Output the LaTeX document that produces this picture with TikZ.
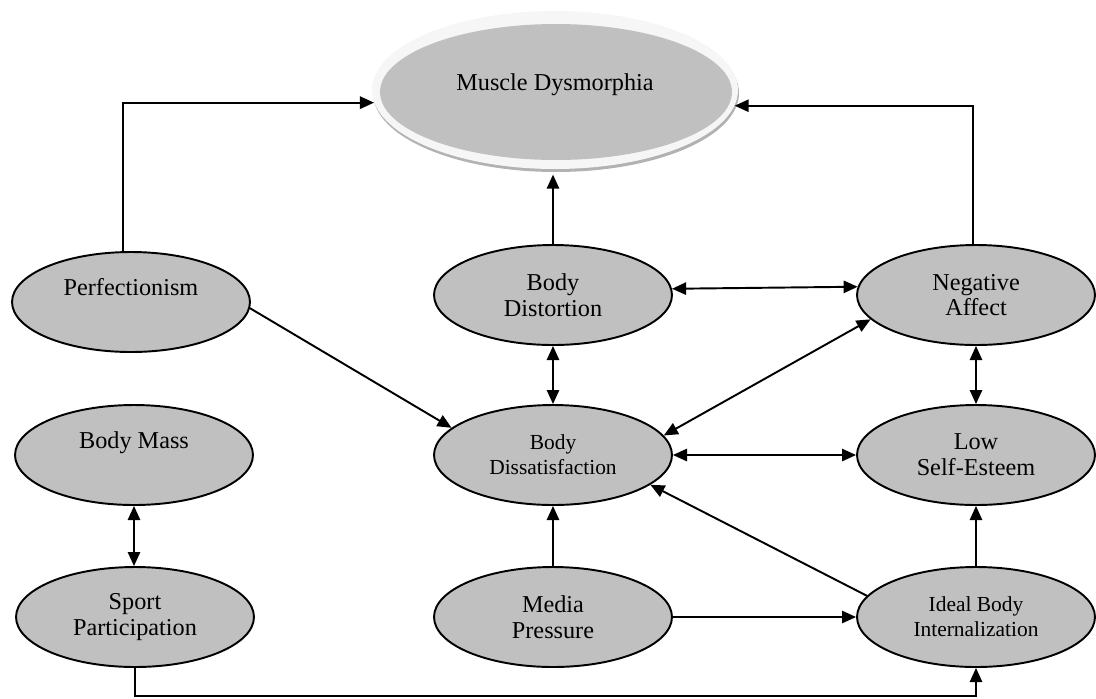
\documentclass[tikz,border=0pt]{standalone}
\usepackage{fontspec}
\setmainfont{Liberation Serif}
\usetikzlibrary{shapes.geometric,arrows.meta,calc}
\definecolor{nodegray}{RGB}{192,192,192}
\begin{document}
\begin{tikzpicture}[x=0.02cm,y=-0.02cm,
  var/.style={ellipse, draw=black, line width=1.1pt, fill=nodegray, minimum width=4.76cm, minimum height=2cm, inner sep=0pt, align=center, font=\fontsize{13.8}{14.7}\selectfont},
  small/.style={font=\fontsize{12.2}{14.2}\selectfont},
  oneline/.style={text height=9.3pt, text depth=16.6pt},
  conn/.style={line width=1.1pt, draw=black},
  tip/.style={},
  arr/.style={conn, -{Triangle[length=8pt,width=7pt]}},
  dbl/.style={conn, {Triangle[length=8pt,width=7pt]}-{Triangle[length=8pt,width=7pt]}}]
\useasboundingbox (0,0) rectangle (1096,698);

% Muscle Dysmorphia (ringed ellipse)
\fill[gray!60] (556,93) ellipse [x radius=3.66cm, y radius=1.58cm];
\fill[gray!7] (555,90) ellipse [x radius=3.66cm, y radius=1.58cm];
\fill[nodegray] (556,92) ellipse [x radius=3.52cm, y radius=1.36cm];
\node[ellipse, minimum width=7.32cm, minimum height=3.16cm, inner sep=0pt, font=\fontsize{13.8}{14.7}\selectfont, text height=9.3pt, text depth=8.6pt] (md) at (555,90) {Muscle Dysmorphia};

\node[var,oneline] (perf) at (131,302) {Perfectionism};
\node[var,oneline] (bm) at (134,455) {Body Mass};
\node[var] (sp) at (135,617) {Sport\\Participation};
\node[var] (bd) at (553,295) {Body\\Distortion};
\node[var,small] (bdis) at (553,455) {Body\\Dissatisfaction};
\node[var] (mp) at (553,617) {Media\\Pressure};
\node[var] (na) at (976,295) {Negative\\Affect};
\node[var] (lse) at (976,455) {Low\\Self-Esteem};
\node[var,small] (ibi) at (976,617) {Ideal Body\\Internalization};

\draw[arr] ([xshift=-0.16cm]perf.north) |- (md.184.8);
\draw[arr] ([xshift=-0.06cm]na.north) |- (md.355.2);
\draw[arr, shorten >=3pt] (bd.north) -- (bd.north |- md.south);
\draw[dbl] (bd.3.4) -- (na.176.6);
\draw[dbl] (bd.south) -- (bdis.north);
\draw[arr] (perf.357) -- (bdis.165.5);
\draw[dbl] (na.193.2) -- (bdis.10.1);
\draw[dbl] (na.south) -- (lse.north);
\draw[dbl] (bdis.east) -- (lse.west);
\draw[arr] (ibi.169) -- (bdis.343.9);
\draw[arr] (ibi.north) -- (lse.south);
\draw[arr] (mp.north) -- (bdis.south);
\draw[arr] (mp.east) -- (ibi.west);
\draw[dbl] (bm.south) -- (bm.south |- sp.north);
\draw[arr] (sp.south) -- ++(0,28) -| (ibi.south);
\end{tikzpicture}
\end{document}
